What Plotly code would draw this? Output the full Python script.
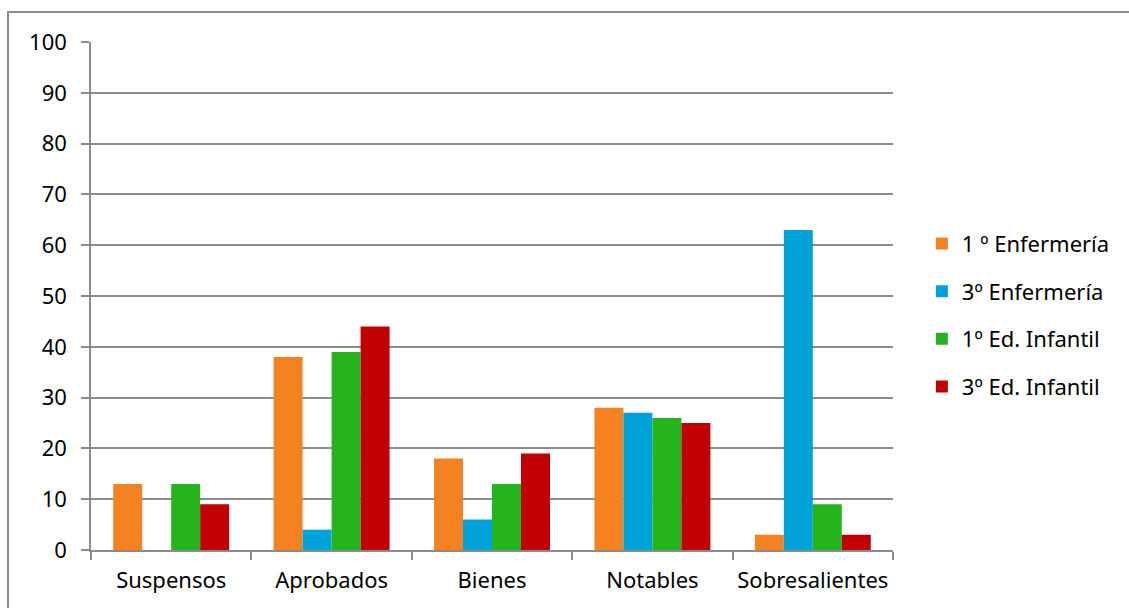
import plotly.graph_objects as go

categorias = ["Suspensos", "Aprobados", "Bienes", "Notables", "Sobresalientes"]
enf_1 = [13, 38, 18, 28, 3]
enf_3 = [0, 4, 6, 27, 63]
inf_1 = [13, 39, 13, 26, 9]
inf_3 = [9, 44, 19, 25, 3]

series = [
    ("1 º Enfermería", enf_1, "#F58220"),
    ("3º Enfermería", enf_3, "#00A2DA"),
    ("1º Ed. Infantil", inf_1, "#25B41E"),
    ("3º Ed. Infantil", inf_3, "#C00000"),
]

FONT = "Noto Sans, Calibri, sans-serif"
GRID = "#8c8c8c"

fig = go.Figure()
for i, (nombre, valores, color) in enumerate(series):
    fig.add_trace(go.Bar(
        x=categorias, y=valores, name=nombre, legendgroup=f"g{i}",
        marker=dict(color=color, line=dict(width=0)),
    ))

fig.update_layout(
    width=1129, height=608,
    margin=dict(l=91, r=236, t=42, b=58),
    paper_bgcolor="white", plot_bgcolor="white",
    barmode="group", bargap=0.277, bargroupgap=0,
    font=dict(family=FONT, size=22, color="#000000"),
    legend=dict(
        x=1.036, y=0.462, xanchor="left", yanchor="middle",
        font=dict(family=FONT, size=22, color="#000000"),
        tracegroupgap=16, itemwidth=30,
    ),
    xaxis=dict(
        showline=True, linecolor=GRID, linewidth=1.5,
        ticks="outside", ticklen=8, tickcolor=GRID, tickwidth=1.5,
        tickson="boundaries", showgrid=False, ticklabelstandoff=10,
        tickangle=0, automargin=False,
        tickfont=dict(family=FONT, size=22),
    ),
    yaxis=dict(
        range=[0, 100], dtick=10, tick0=0,
        showline=True, linecolor=GRID, linewidth=1.5,
        ticks="outside", ticklen=8, tickcolor=GRID, tickwidth=1.5,
        showgrid=True, gridcolor=GRID, gridwidth=1.5,
        zeroline=False, ticklabelstandoff=10, automargin=False,
        tickfont=dict(family=FONT, size=22),
    ),
    shapes=[dict(
        type="rect", xref="paper", yref="paper",
        x0=(8 - 91) / 802, x1=1.5, y0=-0.5, y1=(550 - 12) / 508,
        line=dict(color="#8c8c8c", width=2), fillcolor="rgba(0,0,0,0)",
        layer="below",
    )],
)

fig.write_html("out.html")
